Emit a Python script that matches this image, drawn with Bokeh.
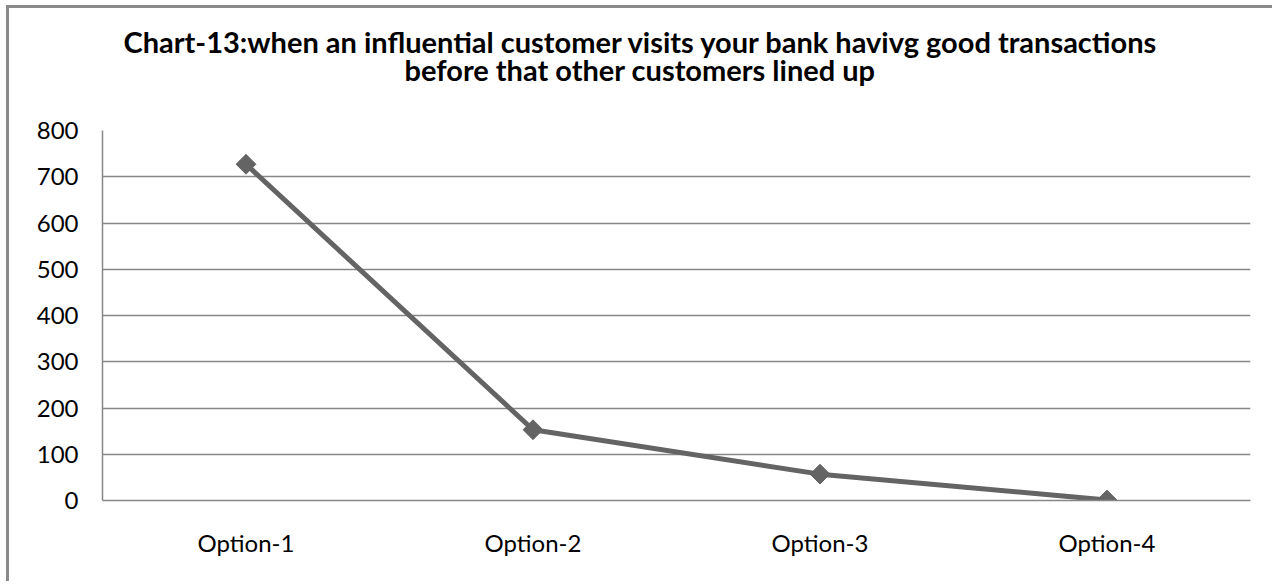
import numpy as np
from bokeh.plotting import figure
from bokeh.models import Title, FixedTicker, CategoricalAxis
from bokeh.embed import file_html
from bokeh.resources import INLINE

categories = ["Option-1", "Option-2", "Option-3", "Option-4"]
values = [727, 153, 57, 1]
y_ticks = [0, 100, 200, 300, 400, 500, 600, 700, 800]
title_lines = [
    "Chart-13:when an influential customer visits your bank havivg good transactions",
    "before that other customers lined up",
]

FONT = "Lato"
GRID = "#878787"
LINE = "#646464"
BORDER = "#8a8a8a"

OX, OY, BW = 6, 5, 3  # page offset of the chart box and its border width
W = 1275 - OX - BW
H = 584 - OY - BW

p = figure(
    x_range=categories, y_range=(0, 800),
    width=W, height=H,
    output_backend="svg", toolbar_location=None,
    min_border_left=102 - OX - BW, min_border_right=1275 - 1250,
    min_border_top=130 - OY - BW, min_border_bottom=584 - 500,
)
p.margin = (OY, 0, 0, OX)
p.styles = {"border-left": f"{BW}px solid {BORDER}", "border-top": f"{BW}px solid {BORDER}"}
p.x_range.range_padding = 0
p.outline_line_color = None
p.background_fill_color = "white"
p.border_fill_color = "white"

p.yaxis.ticker = FixedTicker(ticks=y_ticks)
p.yaxis.axis_line_color = GRID
p.yaxis.axis_line_width = 1.5
p.yaxis.major_tick_line_color = None
p.yaxis.minor_tick_line_color = None
p.yaxis.major_tick_out = 0
p.yaxis.major_label_standoff = 24
p.yaxis.major_label_text_font = FONT
p.yaxis.major_label_text_font_size = "24px"
p.yaxis.major_label_text_color = "black"

p.xaxis.axis_line_color = GRID
p.xaxis.axis_line_width = 1.5
p.xaxis.major_tick_line_color = None
p.xaxis.major_tick_out = 0
p.xaxis.major_label_standoff = 27
p.xaxis.major_label_text_font = FONT
p.xaxis.major_label_text_font_size = "24px"
p.xaxis.major_label_text_color = "black"

p.xgrid.grid_line_color = None
p.ygrid.grid_line_color = GRID
p.ygrid.grid_line_width = 1.5

p.line(categories, values, line_color=LINE, line_width=5)
p.scatter(categories, values, marker="square", size=14, angle=np.pi / 4,
          fill_color=LINE, line_color=LINE)

# invisible spacer between the plot area and the title
spacer = CategoricalAxis(axis_line_color=None, major_tick_line_color=None,
                         major_label_text_color=None, major_tick_out=44,
                         major_tick_in=0, major_label_standoff=0)
p.add_layout(spacer, "above")

p.title.visible = False
p.add_layout(Title(text=title_lines[1], align="left", offset=302, standoff=0,
                   text_font=FONT, text_font_style="bold",
                   text_font_size="29px", text_color="black"), "above")
p.add_layout(Title(text=title_lines[0], align="left", offset=21, standoff=-19,
                   text_font=FONT, text_font_style="bold",
                   text_font_size="29px", text_color="black"), "above")

open("out.html", "w").write(file_html(p, INLINE))
